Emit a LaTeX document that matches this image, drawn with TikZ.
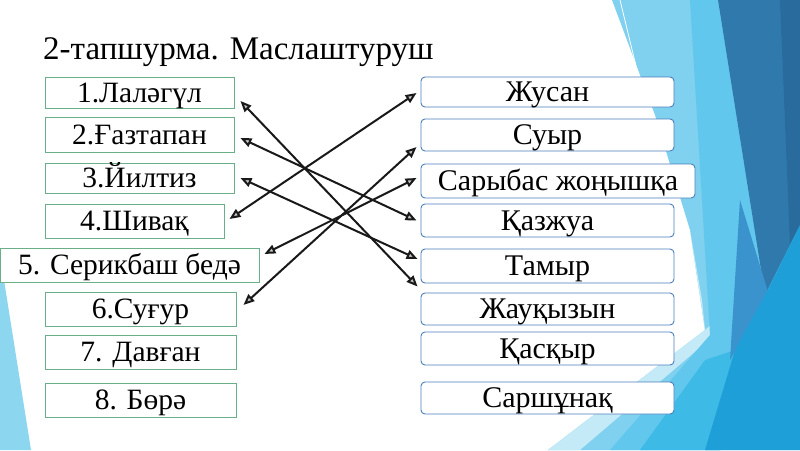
\documentclass[tikz,border=0pt]{standalone}
\usepackage{fontspec}
\setmainfont{Liberation Serif}
\usetikzlibrary{arrows.meta}
\definecolor{grn}{HTML}{6AAF8A}
\definecolor{blu}{HTML}{4A7EBB}
\definecolor{bgA}{HTML}{80D0EF}
\definecolor{bgL}{HTML}{C4EAF8}
\definecolor{bgC}{HTML}{62C7EC}
\definecolor{bgD}{HTML}{2F79AD}
\definecolor{bgD2}{HTML}{2A6B9D}
\definecolor{bgE}{HTML}{3B93CE}
\definecolor{bgF}{HTML}{1F9FD7}
\definecolor{bgG}{HTML}{3DBAE6}
\definecolor{bgT}{HTML}{8DD6F0}
\tikzset{
  lbox/.style={draw=grn, line width=0.9pt, fill=white, inner sep=0pt, text height=19pt, text depth=0pt, font=\fontsize{29.5}{29.5}\selectfont},
  rbox/.style={draw=blu, line width=0.9pt, fill=white, rounded corners=4pt, inner sep=0pt, text height=19pt, text depth=0pt, font=\fontsize{30}{30}\selectfont},
  link/.style={line width=2pt, black!90, {Triangle[length=11pt,width=9pt,fill=gray!45]}-{Triangle[length=11pt,width=9pt,fill=gray!45]}}
}
\begin{document}
\begin{tikzpicture}[x=1pt,y=-1pt]
\useasboundingbox (0,0) rectangle (800,450);
% background
\fill[white] (0,0) rectangle (800,450);
\fill[bgT] (0,255) -- (31,450) -- (0,450) -- cycle;
\fill[bgA] (612,0) -- (800,0) -- (800,450) -- (548,450) -- (705,330) -- (690,230) -- (655,115) -- cycle;
\fill[bgL] (690,230) -- (705,330) -- (800,245) -- (800,262) -- (580,450) -- (548,450) -- (705,330) -- (702,300) -- cycle;
\draw[white, line width=0.8pt] (620,0) -- (700,330);
\fill[bgC] (690,0) -- (718,0) -- (765,295) -- (720,450) -- (610,450) -- (710,335) -- cycle;
\fill[bgG] (640,450) -- (705,360) -- (735,350) -- (720,450) -- cycle;
\fill[bgD] (718,0) -- (800,0) -- (800,225) -- (765,295) -- cycle;
\fill[bgD2] (780,0) -- (800,0) -- (800,225) -- (790,244) -- cycle;
\fill[bgE] (740,200) -- (768,292) -- (730,360) -- cycle;
\fill[bgF] (765,295) -- (800,225) -- (800,450) -- (705,450) -- (735,350) -- cycle;
% title
\node[anchor=base west, inner sep=0pt, font=\fontsize{33}{33}\selectfont] (title) at (43,59) {2-тапшурма. Маслаштуруш};
% left boxes
\node[lbox, minimum width=189, minimum height=31] (l1) at (139.5,93) {1.Лаләгүл};
\node[lbox, minimum width=189, minimum height=35] (l2) at (139.5,134.5) {2.Ғазтапан};
\node[lbox, minimum width=189, minimum height=30] (l3) at (139.5,178) {3.Йилтиз};
\node[lbox, minimum width=179, minimum height=34] (l4) at (134.5,221) {4.Шивақ};
\node[lbox, minimum width=259, minimum height=34] (l5) at (129.5,265) {5. Серикбаш бедә};
\node[lbox, minimum width=191, minimum height=34] (l6) at (140.5,309) {6.Суғур};
\node[lbox, minimum width=191, minimum height=34] (l7) at (140.5,352) {7. Давған};
\node[lbox, minimum width=191, minimum height=34] (l8) at (140.5,400) {8. Бөрә};
% right boxes
\node[rbox, minimum width=253, minimum height=30] (r1) at (547.5,92) {Жусан};
\node[rbox, minimum width=253, minimum height=32] (r2) at (547.5,135) {Суыр};
\node[rbox, minimum width=274, minimum height=34] (r3) at (558,181) {Сарыбас жоңышқа};
\node[rbox, minimum width=253, minimum height=33] (r4) at (547.5,220.5) {Қазжуа};
\node[rbox, minimum width=253, minimum height=34] (r5) at (547.5,266) {Тамыр};
\node[rbox, minimum width=253, minimum height=32] (r6) at (547.5,309) {Жауқызын};
\node[rbox, minimum width=253, minimum height=33] (r7) at (547.5,348.5) {Қасқыр};
\node[rbox, minimum width=253, minimum height=32] (r8) at (547.5,398) {Саршұнақ};
% connectors
\draw[link] ([shift={(6,8)}]l1.east) -- ([shift={(-3,-6)}]r6.north west);
\draw[link] ([shift={(6,3.5)}]l2.east) -- ([shift={(-4,0)}]r4.west);
\draw[link] ([shift={(6,0)}]l3.east) -- ([shift={(-3,-7)}]r5.west);
\draw[link] ([shift={(5,-2)}]l4.east) -- ([shift={(-4,1)}]r1.west);
\draw[link] ([shift={(5,-11)}]l5.east) -- ([shift={(-4,-3)}]r3.west);
\draw[link] ([shift={(7,-4)}]l6.east) -- ([shift={(-4,12)}]r2.west);
\end{tikzpicture}
\end{document}
